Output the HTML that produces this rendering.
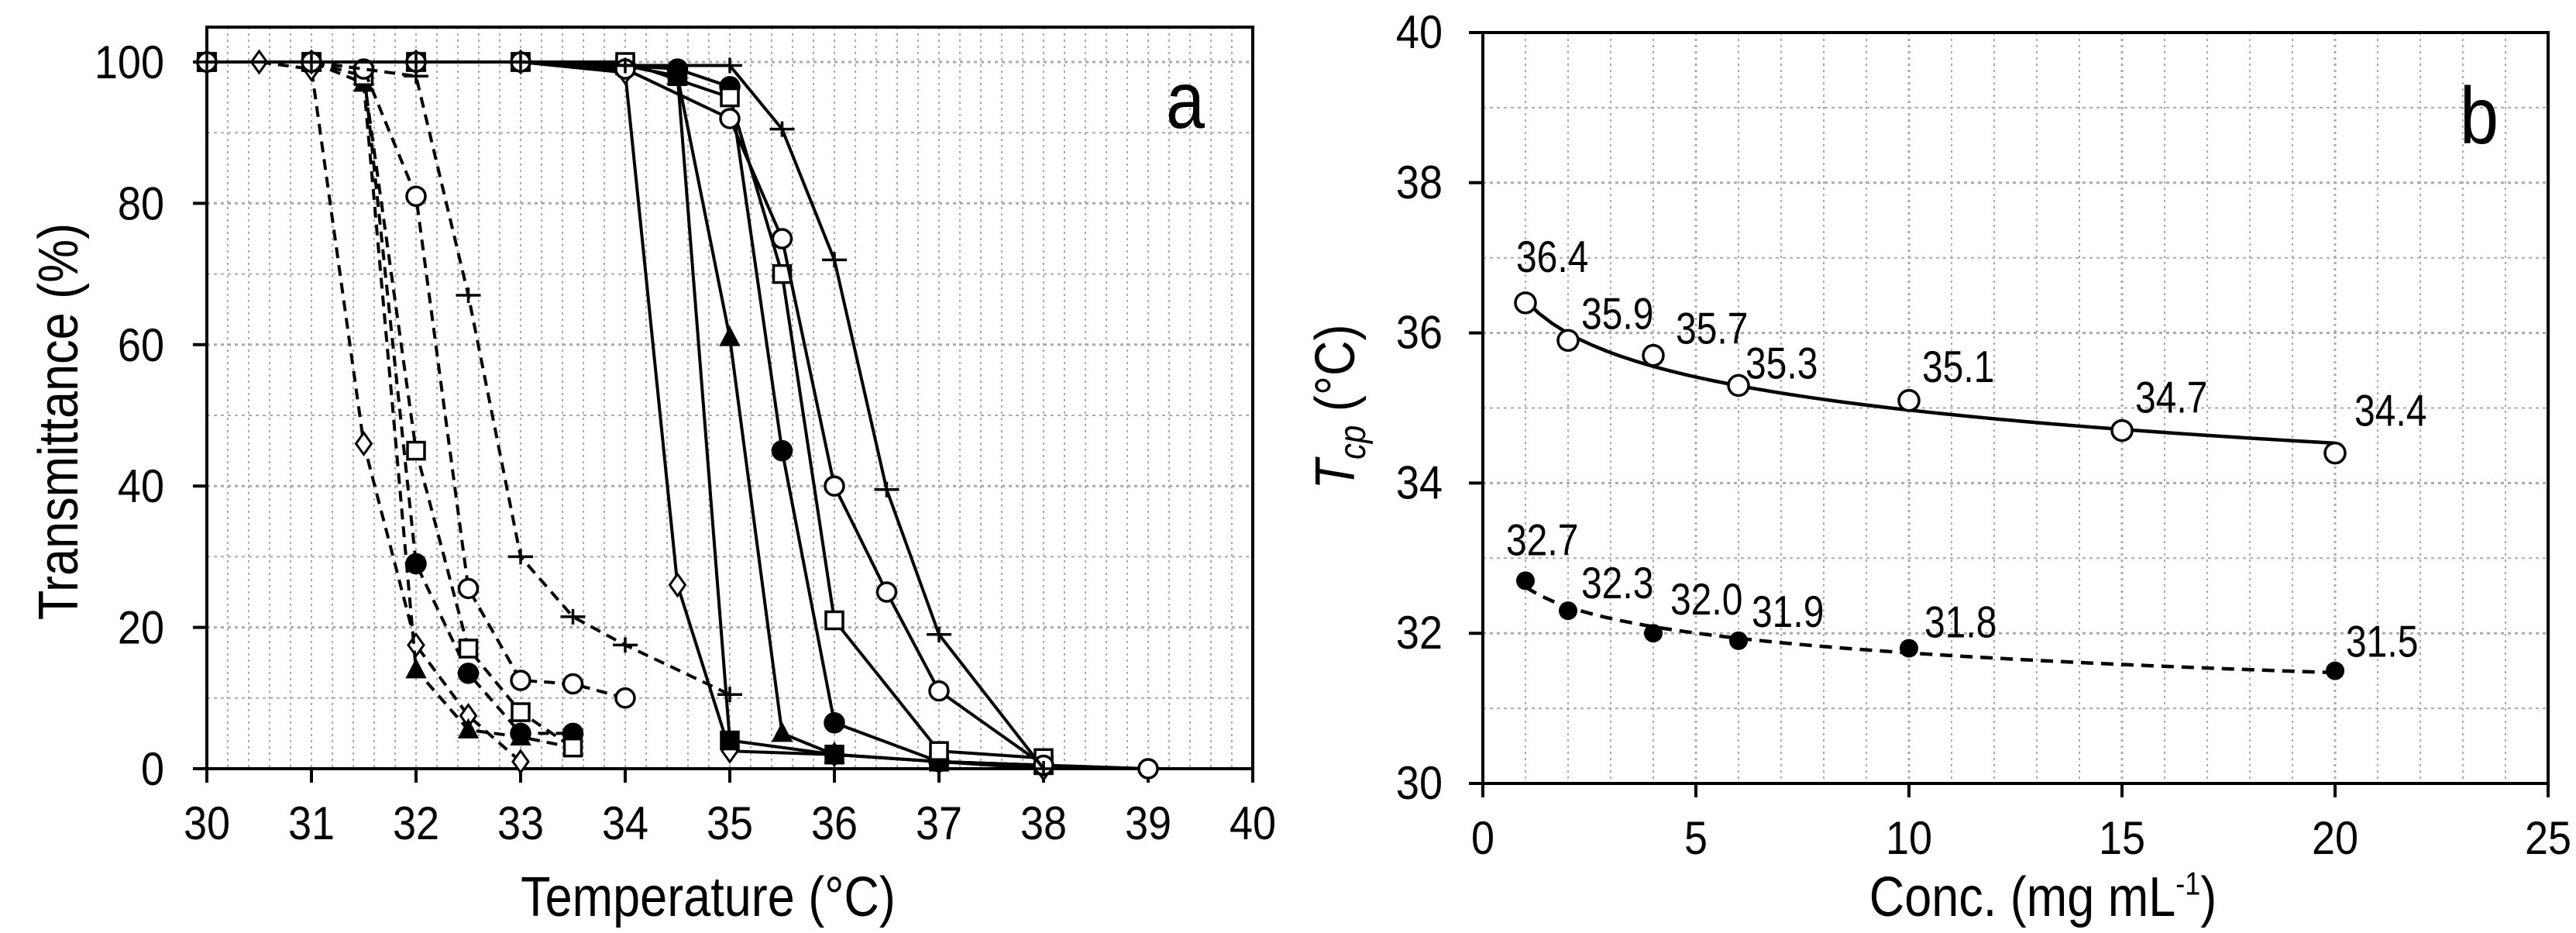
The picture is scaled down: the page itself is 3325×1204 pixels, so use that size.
<!DOCTYPE html>
<html><head><meta charset="utf-8"><style>
html,body{margin:0;padding:0;background:#fff;}
svg{display:block;font-family:"Liberation Sans",Arial,sans-serif;}
</style></head><body>
<svg id="fig" width="3325" height="1204" viewBox="0 0 3325 1204" xmlns="http://www.w3.org/2000/svg">
<g id="pa"></g>
<g id="pb"></g>
</svg>
<script>
// ---------- Panel a data ----------
const aXTicks = [30,31,32,33,34,35,36,37,38,39,40];
const aYTicks = [0,20,40,60,80,100];
const dDiamondT = [30,30.5,31,31.5,32,32.5,33];
const dDiamondV = [100,100,99,46,17.5,7.5,1];
const dTriT = [30,31,31.5,32,32.5,33,33.5];
const dTriV = [100,100,97,14,5.5,4.5,3];
const dDotT = [30,31,31.5,32,32.5,33,33.5];
const dDotV = [100,100,99,29,13.5,5,5];
const dSqT = [30,31,31.5,32,32.5,33,33.5];
const dSqV = [100,100,98,45,17,8,3];
const dCircT = [30,31,31.5,32,32.5,33,33.5,34];
const dCircV = [100,100,99,81,25.5,12.5,12,10];
const dPlusT = [30,31,32,32.5,33,33.5,34,35];
const dPlusV = [100,100,98,67,30,21.5,17.5,10.5];
const sDiamondT = [30,31,32,33,34,34.5,35,36,37,38];
const sDiamondV = [100,100,100,100,98.5,26,2.5,2,1,0];
const sTriT = [30,31,32,33,34,34.5,35,35.5,36,37,38];
const sTriV = [100,100,100,100,99.5,98,61,5,2,1,0.5];
const sDotT = [30,31,32,33,34,34.5,35,35.5,36,37,38];
const sDotV = [100,100,100,100,99.5,99,96.5,45,6.5,1,0.5];
const sSqFT = [30,31,32,33,34,34.5,35,36,37,38];
const sSqFV = [100,100,100,100,99.5,98,4,2,1,0.5];
const sSqT = [30,31,32,33,34,35,35.5,36,37,38];
const sSqV = [100,100,100,100,100,95,70,21,2.5,1.5];
const sCircT = [30,31,32,33,34,35,35.5,36,36.5,37,38,39];
const sCircV = [100,100,100,100,99,92,75,40,25,11,0.5,0];
const sPlusT = [30,31,32,33,34,35,35.5,36,36.5,37,38];
const sPlusV = [100,100,100,100,99.5,99.5,90.5,72,39.5,19,0];

// ---------- Panel b data ----------
const bXTicks = [0,5,10,15,20,25];
const bYTicks = [30,32,34,36,38,40];
const openConc = [1,2,4,6,10,15,20];
const openTcp = [36.4,35.9,35.7,35.3,35.1,34.7,34.4];
const filledConc = [1,2,4,6,10,20];
const filledTcp = [32.7,32.3,32.0,31.9,31.8,31.5];
const openLabelOff = [[-12,-40],[17,-15],[29,-15],[9,-9],[17,-24],[17,-23],[25,-35]];
const filledLabelOff = [[-25,-33],[17,-16],[22,-24],[17,-18],[20,-14],[14,-18]];

const NS='http://www.w3.org/2000/svg';
function mk(parent,tag,attrs,name,text){
  const e=document.createElementNS(NS,tag);
  for(const k in attrs)e.setAttribute(k,attrs[k]);
  
  
  if(text!==undefined)e.textContent=text;
  parent.appendChild(e);return e;
}
// stretched text: reference text is taller than wide
function txt(parent,x,y,size,anchor,name,text,sy,rot){
  let tr=`translate(${x},${y})`+(rot?` rotate(${rot})`:'')+` scale(1,${sy||1.12})`;
  return mk(parent,'text',{x:0,y:0,'font-size':size,'text-anchor':anchor,transform:tr},name,text);
}
function marker(g,type,x,y,name){
  const sw=3.5;
  if(type==='circle')mk(g,'circle',{cx:x,cy:y,r:12,fill:'#fff',stroke:'#000','stroke-width':sw},name);
  else if(type==='dot')mk(g,'circle',{cx:x,cy:y,r:12,fill:'#000',stroke:'#000','stroke-width':sw},name);
  else if(type==='square')mk(g,'rect',{x:x-11,y:y-11,width:22,height:22,fill:'#fff',stroke:'#000','stroke-width':sw},name);
  else if(type==='sqf')mk(g,'rect',{x:x-11,y:y-11,width:22,height:22,fill:'#000',stroke:'#000','stroke-width':sw},name);
  else if(type==='tri')mk(g,'polygon',{points:`${x},${y-13} ${x+12},${y+10} ${x-12},${y+10}`,fill:'#000',stroke:'#000','stroke-width':2},name);
  else if(type==='diamond')mk(g,'polygon',{points:`${x},${y-14} ${x+10},${y} ${x},${y+14} ${x-10},${y}`,fill:'#fff',stroke:'#000','stroke-width':3},name);
  else if(type==='plus')mk(g,'path',{d:`M${x-16},${y}H${x+16}M${x},${y-10}V${y+10}`,stroke:'#000','stroke-width':3.5,fill:'none'},name);
}

// ---------- Panel a ----------
(function(){
  const g=document.getElementById('pa');
  const L=267,R=1617,T=35,B=992;
  const X=t=>L+(t-30)*135, Y=v=>B-v*9.12;
  for(let i=1;i<50;i++){const t=30+i*0.2;mk(g,'line',{x1:X(t),x2:X(t),y1:T,y2:B,stroke:'#aaa','stroke-width':2,'stroke-dasharray':'3,5'},'v-gridline');}
  for(let v=10;v<=100;v+=10){mk(g,'line',{x1:L,x2:R,y1:Y(v),y2:Y(v),stroke:'#aaa','stroke-width':v%20===0?3:2,'stroke-dasharray':'4,5'},'h-gridline');}
  mk(g,'rect',{x:L,y:T,width:R-L,height:B-T,fill:'none',stroke:'#000','stroke-width':4},'plot-frame-a');
  aXTicks.forEach(t=>{mk(g,'line',{x1:X(t),x2:X(t),y1:B,y2:B+18,stroke:'#000','stroke-width':4},'x-tick');
    txt(g,X(t),1083,54,'middle','x-tick-label',String(t));});
  aYTicks.forEach(v=>{mk(g,'line',{x1:L-18,x2:L,y1:Y(v),y2:Y(v),stroke:'#000','stroke-width':4},'y-tick');
    txt(g,212,Y(v)+21,54,'end','y-tick-label',String(v));});
  txt(g,914,1182,63,'middle','x-axis-title','Temperature (°C)',1.15);
  txt(g,100,544,63,'middle','y-axis-title','Transmittance (%)',1.15,-90);
  txt(g,1530,165,90,'middle','panel-label-a','a',1.15);
  const series=[
    [dDiamondT,dDiamondV,'diamond',true,'dashed-open-diamond'],
    [dTriT,dTriV,'tri',true,'dashed-filled-triangle'],
    [dDotT,dDotV,'dot',true,'dashed-filled-circle'],
    [dSqT,dSqV,'square',true,'dashed-open-square'],
    [dCircT,dCircV,'circle',true,'dashed-open-circle'],
    [dPlusT,dPlusV,'plus',true,'dashed-plus'],
    [sDiamondT,sDiamondV,'diamond',false,'solid-open-diamond'],
    [sTriT,sTriV,'tri',false,'solid-filled-triangle'],
    [sDotT,sDotV,'dot',false,'solid-filled-circle'],
    [sSqFT,sSqFV,'sqf',false,'solid-filled-square'],
    [sSqT,sSqV,'square',false,'solid-open-square'],
    [sCircT,sCircV,'circle',false,'solid-open-circle'],
    [sPlusT,sPlusV,'plus',false,'solid-plus']
  ];
  series.forEach(([ts,vs,m,dash,name])=>{
    const sg=mk(g,'g',{},name);
    const pts=ts.map((t,i)=>X(t)+','+Y(vs[i])).join(' ');
    const a={points:pts,fill:'none',stroke:'#000','stroke-width':4};
    if(dash)a['stroke-dasharray']='14,9';
    mk(sg,'polyline',a,name+'-line');
    ts.forEach((t,i)=>marker(sg,m,X(t),Y(vs[i]),name+'-point'));
  });
})();

// ---------- Panel b ----------
(function(){
  const g=document.getElementById('pb');
  const L=1914,R=3289,T=42,B=1011;
  const X=c=>L+c*55, Y=t=>B-(t-30)*96.9;
  for(let c=1;c<25;c++)mk(g,'line',{x1:X(c),x2:X(c),y1:T,y2:B,stroke:'#aaa','stroke-width':c%5===0?3:2,'stroke-dasharray':'3,5'},'v-gridline');
  for(let t=31;t<40;t++)mk(g,'line',{x1:L,x2:R,y1:Y(t),y2:Y(t),stroke:'#aaa','stroke-width':t%2===0?3:2,'stroke-dasharray':'4,5'},'h-gridline');
  mk(g,'rect',{x:L,y:T,width:R-L,height:B-T,fill:'none',stroke:'#000','stroke-width':4},'plot-frame-b');
  bXTicks.forEach(c=>{mk(g,'line',{x1:X(c),x2:X(c),y1:B,y2:B+18,stroke:'#000','stroke-width':4},'x-tick');
    txt(g,X(c),1102,54,'middle','x-tick-label',String(c));});
  bYTicks.forEach(t=>{mk(g,'line',{x1:L-18,x2:L,y1:Y(t),y2:Y(t),stroke:'#000','stroke-width':4},'y-tick');
    txt(g,1862,Y(t)+20,54,'end','y-tick-label',String(t));});
  const xt=txt(g,2637,1182,63,'middle','x-axis-title','Conc. (mg mL',1.15);
  mk(xt,'tspan',{'font-size':36,dy:-24},'superscript','-1');
  mk(xt,'tspan',{dy:24},'paren',')');
  const yt=txt(g,1748,525,63,'middle','y-axis-title','',1.15,-90);
  mk(yt,'tspan',{'font-style':'italic'},'t','T');
  mk(yt,'tspan',{'font-style':'italic','font-size':42,dy:12},'cp-sub','cp');
  mk(yt,'tspan',{dy:-12},'unit',' (°C)');
  txt(g,3200,185,90,'middle','panel-label-b','b',1.15);
  function fitLine(xs,ys,dash,name){
    const n=xs.length,lx=xs.map(Math.log);
    const mx=lx.reduce((a,b)=>a+b)/n,my=ys.reduce((a,b)=>a+b)/n;
    let sxy=0,sxx=0;lx.forEach((v,i)=>{sxy+=(v-mx)*(ys[i]-my);sxx+=(v-mx)*(v-mx);});
    const b=sxy/sxx,a=my-b*mx;const x0=xs[0],x1=xs[n-1];
    const pts=[];for(let i=0;i<=60;i++){const c=x0+(x1-x0)*i/60;pts.push(X(c)+','+Y(a+b*Math.log(c)));}
    const at={points:pts.join(' '),fill:'none',stroke:'#000','stroke-width':4.5};
    if(dash)at['stroke-dasharray']='16,10';
    mk(g,'polyline',at,name);
  }
  fitLine(openConc,openTcp,false,'open-trendline');
  fitLine(filledConc,filledTcp,true,'filled-trendline');
  openConc.forEach((c,i)=>{mk(g,'circle',{cx:X(c),cy:Y(openTcp[i]),r:13,fill:'#fff',stroke:'#000','stroke-width':3.5},'open-point');
    txt(g,X(c)+openLabelOff[i][0],Y(openTcp[i])+openLabelOff[i][1],48,'start','open-value-label',openTcp[i].toFixed(1),1.2);});
  filledConc.forEach((c,i)=>{mk(g,'circle',{cx:X(c),cy:Y(filledTcp[i]),r:12,fill:'#000'},'filled-point');
    txt(g,X(c)+filledLabelOff[i][0],Y(filledTcp[i])+filledLabelOff[i][1],48,'start','filled-value-label',filledTcp[i].toFixed(1),1.2);});
})();
</script>
</body></html>
